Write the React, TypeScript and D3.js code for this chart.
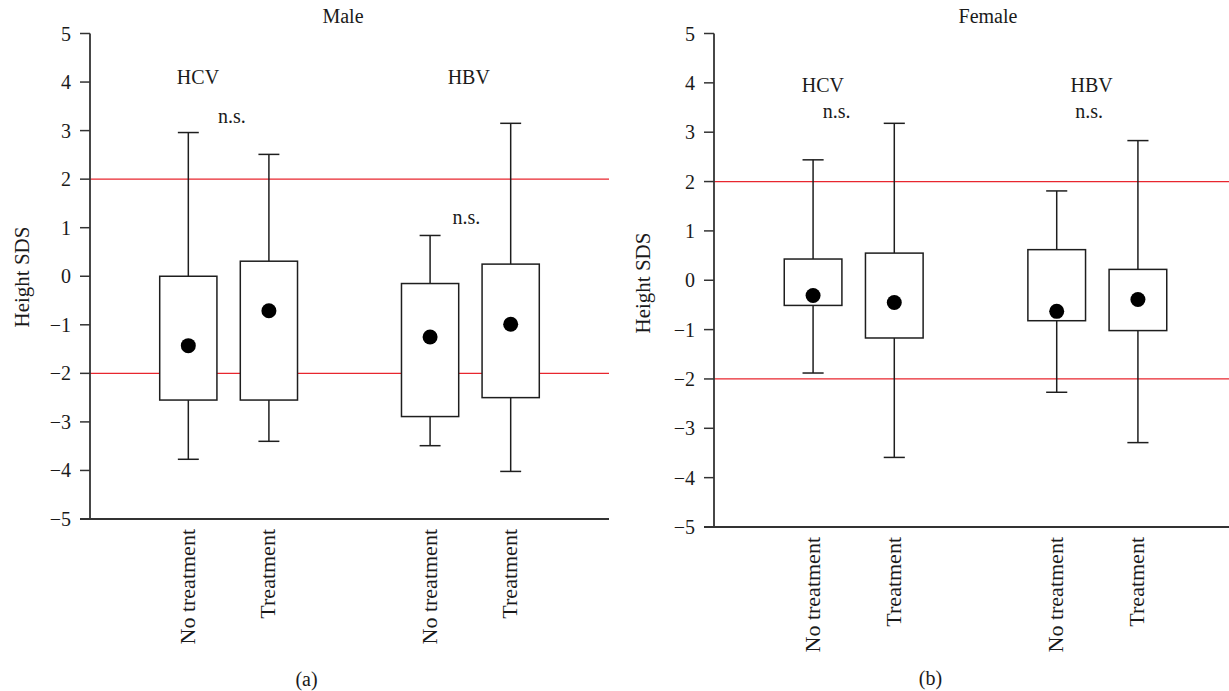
import React from "react";
import * as d3 from "d3";

// ---- data ----
const categories = ["No treatment", "Treatment", "No treatment", "Treatment"];
const groups = ["HCV", "HCV", "HBV", "HBV"];
const slotKeys = ["HCV|No treatment", "HCV|Treatment", "gap", "HBV|No treatment", "HBV|Treatment"];
const yTicks = [5, 4, 3, 2, 1, 0, -1, -2, -3, -4, -5];
const referenceLines = [2, -2];

// Male panel
const maleWhiskerHigh = [2.96, 2.51, 0.84, 3.15];
const maleBoxHigh = [0.0, 0.31, -0.15, 0.25];
const maleBoxLow = [-2.55, -2.55, -2.89, -2.5];
const maleWhiskerLow = [-3.77, -3.4, -3.49, -4.02];
const maleMean = [-1.43, -0.71, -1.25, -0.99];

// Female panel
const femaleWhiskerHigh = [2.44, 3.18, 1.81, 2.83];
const femaleBoxHigh = [0.43, 0.55, 0.62, 0.22];
const femaleBoxLow = [-0.51, -1.17, -0.82, -1.02];
const femaleWhiskerLow = [-1.88, -3.59, -2.27, -3.29];
const femaleMean = [-0.31, -0.45, -0.63, -0.39];

// annotations: [text, slot position (fractional), y value]
const maleNotes: [string, number, number][] = [
  ["HCV", 0.12, 3.95],
  ["n.s.", 0.54, 3.15],
  ["HBV", 3.48, 3.95],
  ["n.s.", 3.45, 1.07],
];
const femaleNotes: [string, number, number][] = [
  ["HCV", 0.12, 3.81],
  ["n.s.", 0.29, 3.29],
  ["HBV", 3.43, 3.81],
  ["n.s.", 3.4, 3.29],
];

const FONT = "Liberation Serif";
const AXIS_COLOR = "#333";
const RED = "#e8262e";

type PanelProps = {
  left: number;
  right: number;
  top: number;
  bottom: number;
  title: string;
  titleX: number;
  titleY: number;
  caption: string;
  captionX: number;
  captionY: number;
  yLabelX: number;
  yLabelY: number;
  whiskerHigh: number[];
  boxHigh: number[];
  boxLow: number[];
  whiskerLow: number[];
  mean: number[];
  notes: [string, number, number][];
};

function Panel(p: PanelProps) {
  const y = d3.scaleLinear().domain([-5, 5]).range([p.bottom, p.top]);
  const x = d3.scalePoint<string>().domain(slotKeys).range([p.left, p.right]).padding(1.22);
  const step = x.step();
  const boxW = step * 0.71;
  const capW = step * 0.26;
  const keys = categories.map((c, i) => `${groups[i]}|${c}`);
  const x0 = x(slotKeys[0]) as number;

  return (
    <g fontFamily={FONT} fill="#1a1a1a">
      {referenceLines.map((v) => (
        <line key={v} x1={p.left} x2={p.right} y1={y(v)} y2={y(v)} stroke={RED} strokeWidth={1.3} />
      ))}
      {keys.map((k, i) => {
        const cx = x(k) as number;
        return (
          <g key={i} stroke="#1e1e1e" strokeWidth={1.5} fill="none">
            <line x1={cx} x2={cx} y1={y(p.boxHigh[i])} y2={y(p.whiskerHigh[i])} />
            <line x1={cx - capW / 2} x2={cx + capW / 2} y1={y(p.whiskerHigh[i])} y2={y(p.whiskerHigh[i])} />
            <line x1={cx} x2={cx} y1={y(p.boxLow[i])} y2={y(p.whiskerLow[i])} />
            <line x1={cx - capW / 2} x2={cx + capW / 2} y1={y(p.whiskerLow[i])} y2={y(p.whiskerLow[i])} />
            <rect
              x={cx - boxW / 2}
              y={y(p.boxHigh[i])}
              width={boxW}
              height={y(p.boxLow[i]) - y(p.boxHigh[i])}
              fill="white"
            />
            <circle cx={cx} cy={y(p.mean[i])} r={7.5} fill="#000" stroke="none" />
          </g>
        );
      })}
      <line x1={p.left} x2={p.left} y1={p.top} y2={p.bottom} stroke={AXIS_COLOR} strokeWidth={1.8} />
      <line x1={p.left - 10} x2={p.right} y1={p.bottom} y2={p.bottom} stroke={AXIS_COLOR} strokeWidth={1.8} />
      {yTicks.map((t) => (
        <g key={t}>
          <line x1={p.left - 10} x2={p.left} y1={y(t)} y2={y(t)} stroke={AXIS_COLOR} strokeWidth={1.5} />
          <text x={p.left - 19} y={y(t)} dy="0.35em" textAnchor="end" fontSize={20} fontFamily={FONT}>
            {t < 0 ? `\u2212${Math.abs(t)}` : `${t}`}
          </text>
        </g>
      ))}
      {keys.map((k, i) => (
        <text
          key={i}
          transform={`translate(${(x(k) as number) + 6.5},${p.bottom + 10}) rotate(-90)`}
          textAnchor="end"
          fontSize={22}
          fontFamily={FONT}
        >
          {categories[i]}
        </text>
      ))}
      <text
        transform={`translate(${p.yLabelX},${p.yLabelY}) rotate(-90)`}
        textAnchor="middle"
        fontSize={21}
        fontFamily={FONT}
      >
        Height SDS
      </text>
      {p.notes.map(([t, s, v], i) => (
        <text key={i} x={x0 + s * step} y={y(v)} textAnchor="middle" fontSize={20} fontFamily={FONT}>
          {t}
        </text>
      ))}
      <text x={p.titleX} y={p.titleY} textAnchor="middle" fontSize={20} fontFamily={FONT}>
        {p.title}
      </text>
      <text x={p.captionX} y={p.captionY} textAnchor="middle" fontSize={20} fontFamily={FONT}>
        {p.caption}
      </text>
    </g>
  );
}

export default function App() {
  return (
    <svg
      width={1229}
      height={691}
      style={{ position: "absolute", left: 0, top: 0, background: "white" }}
    >
      <Panel
        left={90}
        right={609}
        top={33.5}
        bottom={519}
        title="Male"
        titleX={343}
        titleY={23}
        caption="(a)"
        captionX={306.5}
        captionY={686}
        yLabelX={29}
        yLabelY={277}
        whiskerHigh={maleWhiskerHigh}
        boxHigh={maleBoxHigh}
        boxLow={maleBoxLow}
        whiskerLow={maleWhiskerLow}
        mean={maleMean}
        notes={maleNotes}
      />
      <Panel
        left={714}
        right={1237}
        top={33.5}
        bottom={527}
        title="Female"
        titleX={988}
        titleY={23}
        caption="(b)"
        captionX={930.5}
        captionY={685}
        yLabelX={650}
        yLabelY={283}
        whiskerHigh={femaleWhiskerHigh}
        boxHigh={femaleBoxHigh}
        boxLow={femaleBoxLow}
        whiskerLow={femaleWhiskerLow}
        mean={femaleMean}
        notes={femaleNotes}
      />
    </svg>
  );
}
